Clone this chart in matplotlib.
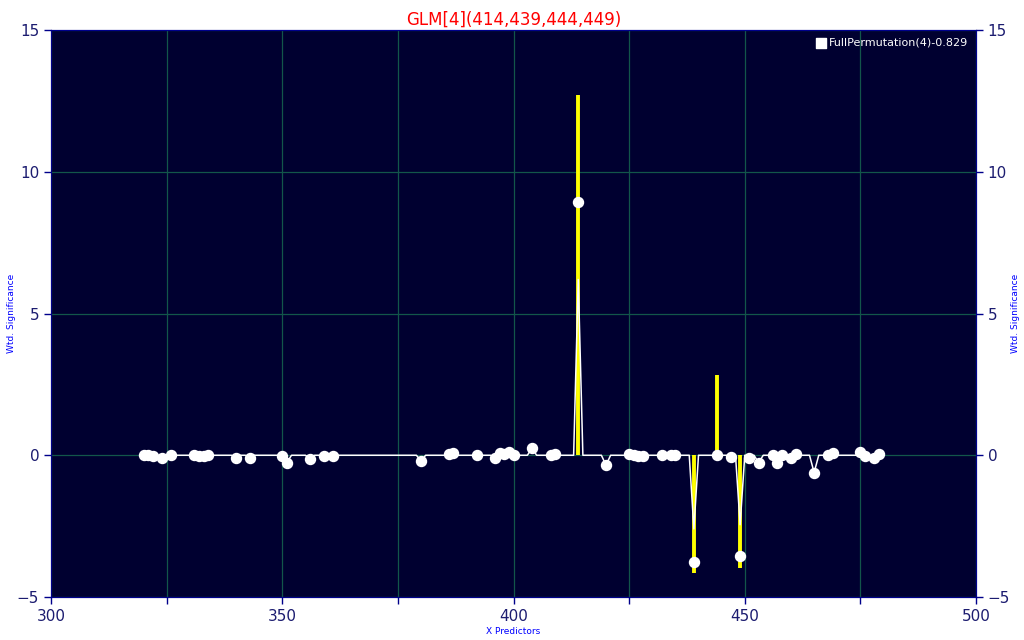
import numpy as np
import matplotlib
matplotlib.use("Agg")
import matplotlib.pyplot as plt

# predictor positions with a marker and their weighted significance
marker_x = [320, 321, 322, 324, 326, 331, 332, 333, 334, 340, 343, 350, 351, 356, 359, 361,
            380, 386, 387, 392, 396, 397, 398, 399, 400, 404, 408, 409, 414, 420,
            425, 426, 427, 428, 432, 434, 435, 439, 444, 447, 449, 451, 453, 456, 457,
            458, 460, 461, 465, 468, 469, 475, 476, 478, 479]
marker_y = [0.01, 0.02, -0.03, -0.08, 0.0, 0.02, -0.04, -0.02, 0.02, -0.08, -0.08, -0.02, -0.26,
            -0.12, -0.02, -0.02,
            -0.20, 0.04, 0.07, 0.0, -0.08, 0.07, 0.03, 0.12, 0.0, 0.25, 0.0, 0.06, 8.95, -0.35,
            0.03, 0.0, -0.02, -0.03, 0.0, 0.0, 0.02, -3.75, 0.02, -0.05, -3.55, -0.08, -0.26,
            0.0, -0.26, 0.0, -0.08, 0.03, -0.61, 0.0, 0.09, 0.12, -0.02, -0.08, 0.03]

# the white line runs over every predictor; it stays at 0 where nothing is marked,
# and at the selected predictors it peaks lower than the marker
line_start, line_end = 320, 479
peak_x = [414, 439, 449]
peak_y = [6.2, -2.6, -2.45]

# yellow bars at the selected predictors (from 0 to the value)
bar_x = [414, 439, 444, 449]
bar_top = [12.72, -4.14, 2.82, -3.96]

title = "GLM[4](414,439,444,449)"
legend_label = "FullPermutation(4)-0.829"

line_x = np.arange(line_start, line_end + 1)
line_y = np.zeros(len(line_x))
for x, y in zip(marker_x, marker_y):
    line_y[x - line_start] = y
for x, y in zip(peak_x, peak_y):
    line_y[x - line_start] = y

bg = "#000030"
grid_c = "#12564a"
axis_c = "#00008b"
tick_c = "#1c1c70"

fig = plt.figure(figsize=(10.24, 6.4), dpi=100)
ax = fig.add_axes([51 / 1024, 1 - 597 / 640, 925 / 1024, 567 / 640])
ax.set_facecolor(bg)

ax.vlines(bar_x, 0, bar_top, color="#ffff00", linewidth=2.8, zorder=3)
ax.plot(line_x, line_y, color="white", linewidth=1.1, zorder=4)
ax.plot(marker_x, marker_y, linestyle="none", marker="o", markersize=7.2,
        color="white", markeredgecolor="white", zorder=5)
h = ax.scatter([], [], marker="s", s=55, color="white", label=legend_label)

ax.set_xlim(300, 500)
ax.set_ylim(-5, 15)
ax.set_xticks(np.arange(300, 501, 25))
ax.set_xticklabels([str(v) if v % 50 == 0 else "" for v in range(300, 501, 25)])
ax.set_yticks(np.arange(-5, 16, 5))
ax.grid(True, color=grid_c, linewidth=0.9)
ax.set_axisbelow(True)

for s in ax.spines.values():
    s.set_color(axis_c)
ax.tick_params(colors=axis_c, labelcolor=tick_c, labelsize=11, length=5, width=1)
ax.set_xlabel("X Predictors", color="#0000ff", fontsize=6.5, labelpad=2)
ax.set_ylabel("Wtd. Significance", color="#0000ff", fontsize=6.5)
ax.yaxis.set_label_coords(-0.038, 0.5)

ax2 = ax.twinx()
ax2.set_ylim(-5, 15)
ax2.set_yticks(np.arange(-5, 16, 5))
ax2.tick_params(colors=axis_c, labelcolor=tick_c, labelsize=11, length=5, width=1)
for s in ax2.spines.values():
    s.set_color(axis_c)
ax2.set_ylabel("Wtd. Significance", color="#0000ff", fontsize=6.5)
ax2.yaxis.set_label_coords(1.038, 0.5)

ax.set_title(title, color="#ff0000", fontsize=12, pad=4)

leg = ax.legend(handles=[h], loc="upper right", frameon=False, fontsize=8,
                labelcolor="white", handletextpad=0.2, borderaxespad=0.3,
                handlelength=1.0)

fig.savefig("out.png", dpi=100, facecolor="white")
